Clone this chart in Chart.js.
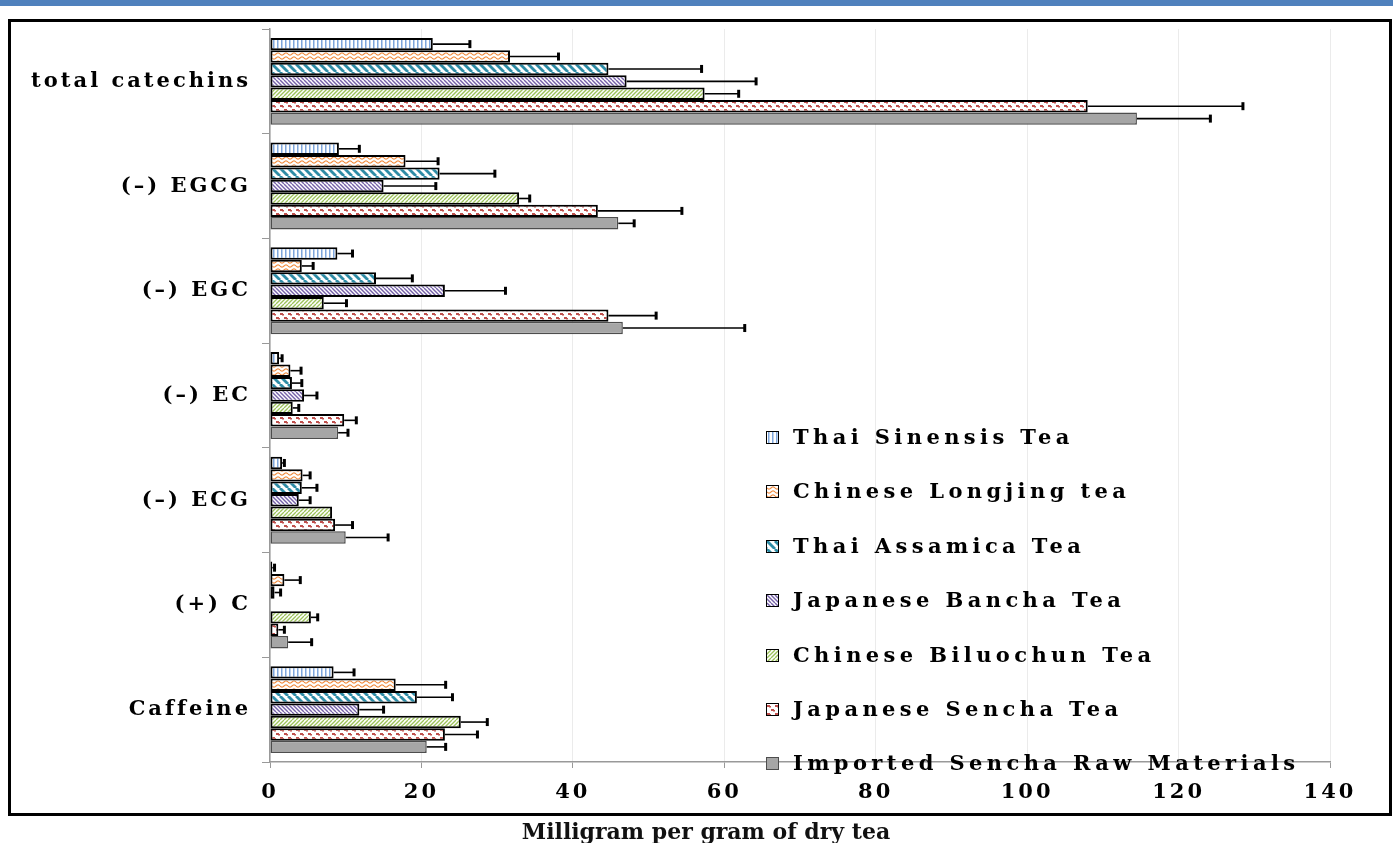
<!DOCTYPE html>
<html>
<head>
  <title>Catechins and caffeine in tea</title>
  <script src="https://cdn.jsdelivr.net/npm/chart.js"></script>
  <style>
    body { margin: 0; background: #fff; width: 1393px; height: 843px; position: relative; overflow: hidden; }
    #topbar { position: absolute; left: 0; top: 0; width: 1393px; height: 6px; background: #4f81bd; }
    #frame { position: absolute; left: 8px; top: 19px; width: 1378px; height: 791px; border: 3px solid #000; }
    #chart { position: absolute; left: 0; top: 0; }
    #xtitle {
      position: absolute; left: 0; width: 1412px; top: 818px; text-align: center;
      font-family: "DejaVu Serif"; font-weight: bold; font-size: 22px; color: #111;
    }
    #legend { position: absolute; left: 766px; top: 0; }
    .item { position: absolute; left: 0; white-space: nowrap; height: 26px; }
    .item canvas { position: absolute; left: 0; top: 7px; border: 1.5px solid #000; }
    .item span {
      position: absolute; left: 27px; top: 0; font-family: "DejaVu Serif";
      font-weight: bold; font-size: 21px; letter-spacing: 4.4px; color: #000;
    }
  </style>
</head>
<body>

<div id="topbar"></div>
<div id="frame"></div>
<canvas id="chart" width="1393" height="843"></canvas>
<div id="legend"></div>
<div id="xtitle">Milligram per gram of dry tea</div>

<script>
  // categories, top to bottom
  const compounds = ['total catechins', '(–) EGCG', '(–) EGC', '(–) EC', '(–) ECG', '(+) C', 'Caffeine'];
  const teas = ['Thai Sinensis Tea', 'Chinese Longjing tea', 'Thai Assamica Tea', 'Japanese Bancha Tea',
                'Chinese Biluochun Tea', 'Japanese Sencha Tea', ' Imported Sencha Raw Materials'];
  const xTicks = [0, 20, 40, 60, 80, 100, 120, 140];

  // mean values (mg/g dry tea)
  const sinensis  = [21.5,  9.1,  8.9, 1.2, 1.6, 0.3,  8.4];
  const longjing  = [31.7, 17.9,  4.2, 2.7, 4.3, 1.9, 16.6];
  const assamica  = [44.7, 22.4, 14.0, 2.9, 4.2, 0.6, 19.4];
  const bancha    = [47.1, 15.0, 23.1, 4.5, 3.8, 0.1, 11.8];
  const biluochun = [57.4, 32.9,  7.1, 3.0, 8.2, 5.4, 25.2];
  const sencha    = [108.0, 43.3, 44.7, 9.8, 8.6, 1.1, 23.1];
  const imported  = [114.5, 46.0, 46.6, 9.0, 10.0, 2.4, 20.7];

  // standard deviations (plus side only)
  const sinensisSd  = [4.9, 2.7, 2.0, 0.4, 0.3, 0.3, 2.7];
  const longjingSd  = [6.4, 4.3, 1.5, 1.4, 1.0, 2.1, 6.6];
  const assamicaSd  = [12.3, 7.3, 4.8, 1.3, 2.0, 0.8, 4.7];
  const banchaSd    = [17.1, 6.9, 8.0, 1.7, 1.5, 0.0, 3.2];
  const biluochunSd = [4.5, 1.4, 3.0, 0.8, 0.0, 0.9, 3.5];
  const senchaSd    = [20.5, 11.1, 6.3, 1.6, 2.3, 0.8, 4.3];
  const importedSd  = [9.7, 2.1, 16.1, 1.3, 5.6, 3.1, 2.5];

  const values = [sinensis, longjing, assamica, bancha, biluochun, sencha, imported];
  const sds = [sinensisSd, longjingSd, assamicaSd, banchaSd, biluochunSd, senchaSd, importedSd];

  // little tiles for the hatched fills
  function tile(kind) {
    const c = document.createElement('canvas');
    const s = 8;
    c.width = s; c.height = s;
    const g = c.getContext('2d');
    g.fillStyle = '#fff';
    g.fillRect(0, 0, s, s);
    if (kind === 'vert') {
      g.fillStyle = '#7ea6dc';
      g.fillRect(1, 0, 1.5, s);
      g.fillRect(5, 0, 1.5, s);
    } else if (kind === 'wave') {
      g.strokeStyle = '#f08a3c'; g.lineWidth = 1.1;
      for (let y0 = 2; y0 < s + 4; y0 += 4) {
        g.beginPath();
        for (let x = 0; x <= s; x++) {
          const y = y0 + Math.sin(x / s * Math.PI * 2) * 1.2;
          x === 0 ? g.moveTo(x, y) : g.lineTo(x, y);
        }
        g.stroke();
      }
    } else if (kind === 'wide') {
      g.strokeStyle = '#2e8ca6'; g.lineWidth = 2.8;
      for (let x = -s; x <= s; x += s) {
        g.beginPath(); g.moveTo(x, 0); g.lineTo(x + s, s); g.stroke();
      }
    } else if (kind === 'narrow') {
      g.strokeStyle = '#7560a8'; g.lineWidth = 1.4;
      for (let x = -s; x <= s; x += 4) {
        g.beginPath(); g.moveTo(x, 0); g.lineTo(x + s, s); g.stroke();
      }
    } else if (kind === 'light') {
      g.strokeStyle = '#9cc25a'; g.lineWidth = 1.3;
      for (let x = -s; x <= 2 * s; x += 4) {
        g.beginPath(); g.moveTo(x, s); g.lineTo(x + s, 0); g.stroke();
      }
    } else if (kind === 'zig') {
      g.fillStyle = '#c0504d';
      g.fillRect(0, 1, 3, 2); g.fillRect(2, 2, 2, 1.5);
      g.fillRect(4, 5, 3, 2); g.fillRect(6, 6, 2, 1.5);
    } else {
      g.fillStyle = '#a6a6a6';
      g.fillRect(0, 0, s, s);
    }
    return c;
  }

  const kinds = ['vert', 'wave', 'wide', 'narrow', 'light', 'zig', 'solid'];
  const ctx = document.getElementById('chart').getContext('2d');
  const fills = kinds.map(k => k === 'solid' ? '#a6a6a6' : ctx.createPattern(tile(k), 'repeat'));

  const datasets = teas.map((name, i) => ({
    label: name,
    data: values[i],
    backgroundColor: fills[i],
    borderColor: kinds[i] === 'solid' ? '#4d4d4d' : '#000',
    borderWidth: kinds[i] === 'solid' ? 1.5 : 2,
    borderSkipped: false,
    categoryPercentage: 0.83,
    barPercentage: 1.0
  }));

  const errorBars = {
    id: 'errorBars',
    afterDatasetsDraw(chart) {
      const c = chart.ctx;
      const xs = chart.scales.x;
      c.save();
      c.strokeStyle = '#000';
      chart.data.datasets.forEach((ds, i) => {
        const meta = chart.getDatasetMeta(i);
        meta.data.forEach((bar, j) => {
          const sd = sds[i][j];
          if (!sd) return;
          const x0 = bar.x;
          const x1 = xs.getPixelForValue(values[i][j] + sd);
          c.lineWidth = 1.6;
          c.beginPath(); c.moveTo(x0, bar.y); c.lineTo(x1, bar.y); c.stroke();
          c.lineWidth = 3;
          c.beginPath(); c.moveTo(x1, bar.y - 4); c.lineTo(x1, bar.y + 4); c.stroke();
        });
      });
      c.restore();
    }
  };

  const spacing = {
    id: 'spacing',
    beforeDraw(chart) { chart.ctx.letterSpacing = '3px'; }
  };

  const labelFont = { family: 'DejaVu Serif', size: 21, weight: 'bold' };

  new Chart(ctx, {
    type: 'bar',
    data: { labels: compounds, datasets },
    plugins: [errorBars, spacing],
    options: {
      indexAxis: 'y',
      responsive: false,
      animation: false,
      layout: { padding: { left: 0, top: 29, right: 63, bottom: 31 } },
      plugins: { legend: { display: false }, tooltip: { enabled: false } },
      scales: {
        x: {
          min: 0, max: 140,
          afterFit: s => { s.height = 50; },
          afterBuildTicks: s => { s.ticks = xTicks.map(v => ({ value: v })); },
          grid: { color: '#ebebeb', tickColor: '#999', tickLength: 6, lineWidth: 1 },
          border: { color: '#999', width: 1.5 },
          ticks: { font: labelFont, color: '#000', padding: 12, maxRotation: 0 }
        },
        y: {
          afterFit: s => { s.width = 270; },
          grid: { drawOnChartArea: false, offset: true, tickColor: '#999', tickLength: 8 },
          border: { color: '#999', width: 1.5 },
          ticks: { font: labelFont, color: '#000', padding: 11 }
        }
      }
    }
  });

  // legend, drawn with the same fills
  const legend = document.getElementById('legend');
  const legendY = [437, 491, 546, 600, 655, 709, 763];
  teas.forEach((name, i) => {
    const item = document.createElement('div');
    item.className = 'item';
    item.style.top = (legendY[i] - 13) + 'px';
    const sw = document.createElement('canvas');
    sw.width = 11; sw.height = 11;
    const g = sw.getContext('2d');
    g.fillStyle = kinds[i] === 'solid' ? '#a6a6a6' : g.createPattern(tile(kinds[i]), 'repeat');
    g.fillRect(0, 0, 11, 11);
    if (kinds[i] === 'solid') sw.style.borderColor = '#4d4d4d';
    const txt = document.createElement('span');
    txt.textContent = name;
    item.appendChild(sw);
    item.appendChild(txt);
    legend.appendChild(item);
  });
</script>

</body>
</html>
